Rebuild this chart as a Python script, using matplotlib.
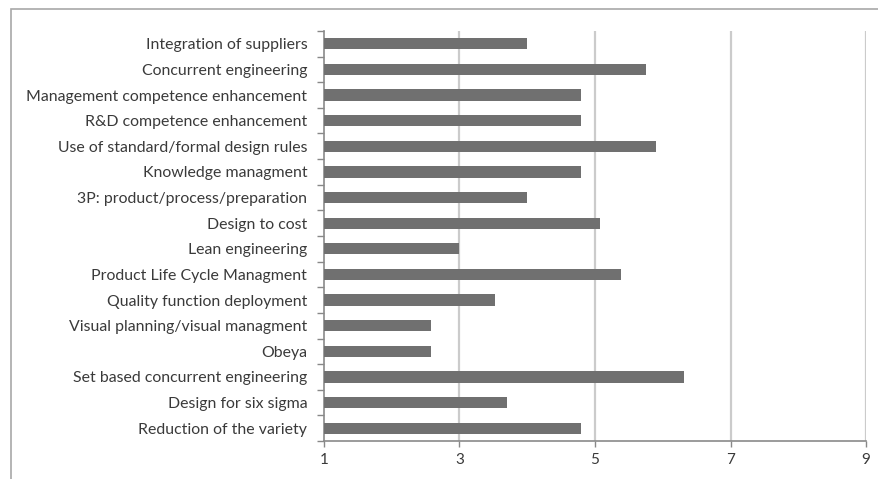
import matplotlib.pyplot as plt
from matplotlib.patches import Rectangle
import numpy as np

labels = ["Integration of suppliers", "Concurrent engineering",
          "Management competence enhancement", "R&D competence enhancement",
          "Use of standard/formal design rules", "Knowledge managment",
          "3P: product/process/preparation", "Design to cost",
          "Lean engineering", "Product Life Cycle Managment",
          "Quality function deployment", "Visual planning/visual managment",
          "Obeya", "Set based concurrent engineering",
          "Design for six sigma", "Reduction of the variety"]
values = [4.0, 5.75, 4.8, 4.8, 5.9, 4.8, 4.0, 5.08,
          3.0, 5.38, 3.52, 2.58, 2.58, 6.32, 3.7, 4.8]
xticks = [1, 3, 5, 7, 9]

plt.rcParams['font.family'] = ['Lato', 'DejaVu Sans']

fig = plt.figure(figsize=(8.79, 4.79), dpi=100)
# outer chart border (cropped at right and bottom)
fig.patches.append(Rectangle((11 / 879, -0.1), 1.0, 1.1 - 9 / 479,
                             transform=fig.transFigure, fill=False,
                             edgecolor='#a8a8a8', lw=1.2))

ax = fig.add_axes([324 / 879, 1 - 441 / 479, (866 - 324) / 879, (441 - 31) / 479])
n = len(labels)
y = np.arange(n)[::-1]
ax.barh(y, [v - 1 for v in values], left=1, height=0.44, color='#707070', zorder=3)

ax.set_xlim(1, 9)
ax.set_ylim(-0.5, n - 0.5)
ax.set_xticks(xticks)
ax.set_xticklabels([str(t) for t in xticks])
for t in xticks[1:]:
    ax.axvline(t, color='#cbcbcb', lw=1.6, zorder=1)

ax.set_yticks(np.arange(-0.5, n, 1.0))
ax.set_yticklabels([])
ax.set_yticks(y, minor=True)
ax.set_yticklabels(labels, minor=True)
ax.tick_params(axis='y', which='minor', length=0, pad=12, labelsize=11.4, labelcolor='#3a3a3a')
ax.tick_params(axis='y', which='major', length=5, color='#888888', width=1)
ax.tick_params(axis='x', length=4, color='#888888', width=1, labelsize=11,
               labelcolor='#3a3a3a', pad=5)

for s in ['top', 'right']:
    ax.spines[s].set_visible(False)
for s in ['left', 'bottom']:
    ax.spines[s].set_color('#8a8a8a')
    ax.spines[s].set_linewidth(1.2)

fig.savefig('out.png', dpi=100)
